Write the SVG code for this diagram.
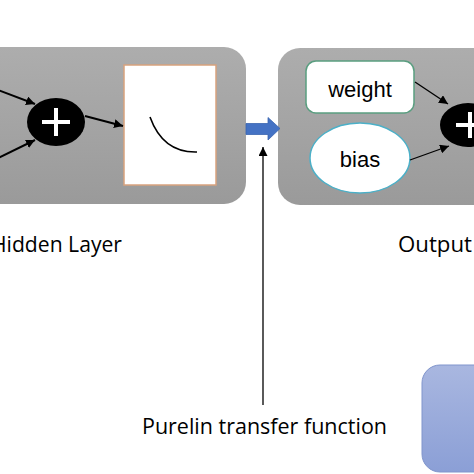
<svg xmlns="http://www.w3.org/2000/svg" width="474" height="474" viewBox="0 0 474 474">
<defs>
<linearGradient id="gray" x1="0" y1="0" x2="0" y2="1">
<stop offset="0" stop-color="#adadad"/>
<stop offset="0.6" stop-color="#a2a2a2"/>
<stop offset="1" stop-color="#9a9a9a"/>
</linearGradient>
<linearGradient id="blue" x1="0" y1="0" x2="0" y2="1">
<stop offset="0" stop-color="#a9b7e0"/>
<stop offset="1" stop-color="#8b9fd6"/>
</linearGradient>
<marker id="ah" viewBox="0 0 10 10" refX="10" refY="5" markerWidth="9" markerHeight="9" markerUnits="userSpaceOnUse" orient="auto">
<path d="M0,0 L10,5 L0,10 z" fill="#000"/>
</marker>
<style>
.panel{fill:url(#gray);}
.sum{fill:#000;}
.plus{stroke:#fff;stroke-width:4;}
.conn{stroke:#000;stroke-width:2;fill:none;marker-end:url(#ah);}
.thin{stroke:#000;stroke-width:1.3;fill:none;marker-end:url(#ah);}
.lbl{font-family:"Liberation Sans",Arial,sans-serif;fill:#000;}
.cap{font-family:"Open Sans","Liberation Sans",sans-serif;fill:#000;}
</style>
</defs>
<rect width="474" height="474" fill="#fff"/>
<g id="hidden-layer">
<rect class="panel" x="-30" y="47" width="276" height="157" rx="22"/>
</g>
<g id="output-layer">
<rect class="panel" x="278" y="48" width="230" height="157" rx="22"/>
</g>
<g id="sum-hidden">
<ellipse class="sum" cx="56" cy="122" rx="29" ry="24"/>
<path class="plus" d="M42,122 H70 M56,108 V136"/>
</g>
<g id="transfer-box">
<rect x="124" y="65" width="92" height="120" fill="#fff" stroke="#d8a27e" stroke-width="1.5"/>
<path d="M150,117 Q163,153 197,152" fill="none" stroke="#000" stroke-width="1.6"/>
</g>
<g id="weight">
<rect x="306" y="61" width="108" height="52" rx="10" fill="#fff" stroke="#5a9e80" stroke-width="1.5"/>
<text class="lbl" x="360" y="97" font-size="22" text-anchor="middle">weight</text>
</g>
<g id="bias">
<ellipse cx="360" cy="158" rx="50" ry="35" fill="#fff" stroke="#4bb0c8" stroke-width="1.5"/>
<text class="lbl" x="360" y="167" font-size="22" text-anchor="middle">bias</text>
</g>
<g id="sum-output">
<ellipse class="sum" cx="468" cy="125" rx="28" ry="22"/>
<path class="plus" d="M456,125 H484 M470,112 V138"/>
</g>
<g id="blue-box">
<rect x="422" y="365" width="80" height="107" rx="18" fill="url(#blue)" stroke="#8095cc" stroke-width="1"/>
</g>
<g id="connectors">
<line class="conn" x1="-2" y1="90" x2="35" y2="104"/>
<line class="conn" x1="-2" y1="158" x2="35" y2="140"/>
<line class="conn" x1="85" y1="116" x2="123" y2="126"/>
<line class="thin" x1="415" y1="82" x2="448" y2="104"/>
<line class="thin" x1="410" y1="160" x2="449" y2="146"/>
<path d="M246,123.5 H268 V117.5 L280,128.5 L268,140 V134.5 H246 z" fill="#4472c4" stroke="#3a64b0" stroke-width="0.8"/>
<line class="thin" x1="263" y1="405" x2="263" y2="147"/>
</g>
<text class="cap" x="-9" y="252" font-size="21" textLength="131" lengthAdjust="spacingAndGlyphs">Hidden Layer</text>
<text class="cap" x="398" y="252" font-size="21" textLength="74" lengthAdjust="spacingAndGlyphs">Output</text>
<text class="cap" x="142" y="434" font-size="22" textLength="245" lengthAdjust="spacingAndGlyphs">Purelin transfer function</text>
</svg>
